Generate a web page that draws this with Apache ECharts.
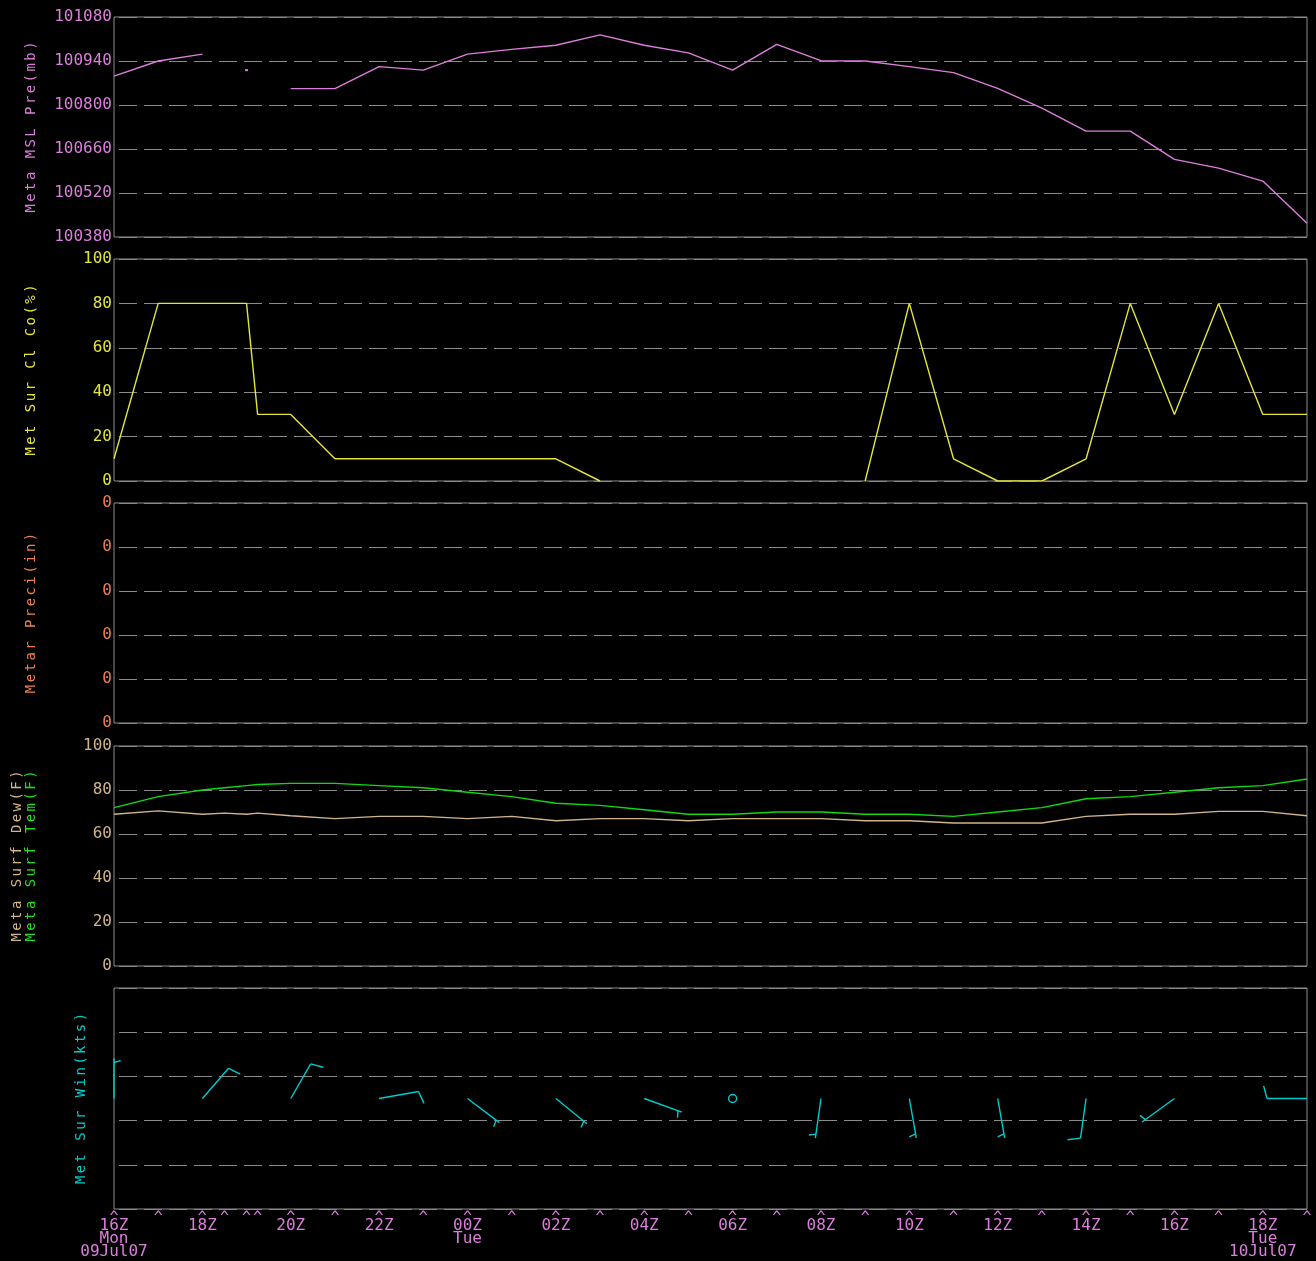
<!DOCTYPE html>
<html>
<head>
<meta charset="utf-8">
<title>Meteogram</title>
<script src="https://cdn.jsdelivr.net/npm/echarts@6/dist/echarts.min.js"></script>
<style>
  html, body { margin: 0; padding: 0; background: #000; }
  #chart { width: 1316px; height: 1261px; }
</style>
</head>
<body>
<div id="chart"></div>
<script>
// Observation times, hours after 00Z Mon 09 Jul 2007
const obsHours = [16, 17, 18, 18.5, 19, 19.25, 20, 21, 22, 23, 24, 25, 26, 27, 28, 29,
  30, 31, 32, 33, 34, 35, 36, 37, 38, 39, 40, 41, 42, 43];

// Mean sea-level pressure (Pa, axis titled mb); '-' = missing report
const mslPressure = [100892, 100940, 100962, '-', 100911, '-', 100852, 100852, 100922, 100911,
  100962, 100977, 100990, 101023, 100990, 100966, 100911, 100993, 100941, 100940,
  100922, 100903, 100853, 100790, 100717, 100717, 100627, 100599, 100558, 100424];

// Surface cloud cover (%)
const cloudCover = [10, 80, 80, 80, 80, 30, 30, 10, 10, 10, 10, 10, 10, 0, '-', '-', '-', '-', '-',
  0, 80, 10, 0, 0, 10, 80, 30, 80, 30, 30];

// Precipitation (in): nothing reported
const precipitation = [];

// Surface dew point and temperature (F)
const dewPoint = [69, 70.5, 69, 69.5, 69, 69.5, 68.3, 67, 68, 68, 67, 68, 66, 67, 67, 66,
  67, 67, 67, 66, 66, 65, 65, 65, 68, 69, 69, 70.3, 70.3, 68.3];
const temperature = [72, 77, 80, 81, 82, 82.5, 83, 83, 82, 81, 79, 77, 74, 73, 71, 69,
  69, 70, 70, 69, 69, 68, 70, 72, 76, 77, 79, 81, 82, 85];

// Surface wind: time, direction (deg, from), speed (kts)
const windHours = [16, 18, 20, 22, 24, 26, 28, 30, 32, 34, 36, 38, 40, 43];
const windDir = [360, 41, 30, 80, 127, 129, 110, 0, 188, 170, 170, 188, 234, 270];
const windSpeed = [5, 10, 10, 10, 5, 5, 5, 0, 5, 5, 5, 10, 5, 10];

// Time axis labels
const labelHours = [16, 18, 20, 22, 24, 26, 28, 30, 32, 34, 36, 38, 40, 42];
const labelText = ['16Z\nMon\n09Jul07', '18Z', '20Z', '22Z', '00Z\nTue', '02Z', '04Z', '06Z',
  '08Z', '10Z', '12Z', '14Z', '16Z', '18Z\nTue\n10Jul07'];

// Panel titles
const titles = [
  { text: 'Meta MSL Pre(mb)', color: '#dc7edc', x: 31, panel: 0 },
  { text: 'Met Sur Cl Co(%)', color: '#e4e43c', x: 31, panel: 1 },
  { text: 'Metar Preci(in)', color: '#ee7f4e', x: 31, panel: 2 },
  { text: 'Meta Surf Dew(F)', color: '#d2b48c', x: 17, panel: 3 },
  { text: 'Meta Surf Tem(F)', color: '#22dd22', x: 31, panel: 3 },
  { text: 'Met Sur Win(kts)', color: '#00cccc', x: 81, panel: 4 }
];

const C = {
  pres: '#dc7edc', cloud: '#e4e43c', precip: '#ee7f4e', dew: '#d2b48c',
  temp: '#12d812', wind: '#00cccc', frame: '#8e8e8e', grid: '#8a8a8a'
};
const FONT = '"DejaVu Sans Mono", "Liberation Mono", monospace';

const panels = [
  { top: 17, height: 220 },
  { top: 259, height: 222 },
  { top: 503, height: 220 },
  { top: 746, height: 220 },
  { top: 988, height: 221 }
];

const chart = echarts.init(document.getElementById('chart'), null, { renderer: 'canvas' });

const grids = panels.map(p => ({
  left: 114, width: 1193, top: p.top, height: p.height,
  show: true, borderColor: C.frame, borderWidth: 1, backgroundColor: 'transparent'
}));

const xAxes = panels.map((p, i) => {
  const ax = {
    gridIndex: i, type: 'value', min: 16, max: 43,
    axisLine: { show: false }, axisTick: { show: false }, splitLine: { show: false },
    axisLabel: { show: false }
  };
  if (i === panels.length - 1) {
    ax.axisLabel = {
      show: true,
      customValues: obsHours,
      margin: 9,
      color: C.pres,
      fontFamily: FONT,
      fontSize: 15,
      formatter: v => {
        const k = labelHours.indexOf(v);
        if (k < 0) return '{c|^}';
        return '{c|^}\n' + labelText[k].split('\n').map(s => '{t|' + s + '}').join('\n');
      },
      rich: {
        c: { color: C.pres, fontFamily: FONT, fontSize: 15, lineHeight: 1, align: 'center' },
        t: { color: C.pres, fontFamily: FONT, fontSize: 16, lineHeight: 13, align: 'center' }
      }
    };
  }
  return ax;
});

function yAxis(i, min, max, interval, color, formatter, showLabels) {
  return {
    gridIndex: i, type: 'value', min, max, interval,
    axisLine: { show: false }, axisTick: { show: false },
    splitLine: {
      show: true,
      lineStyle: { color: C.grid, width: 1, type: [18, 7], dashOffset: 20 }
    },
    axisLabel: {
      show: showLabels !== false, margin: 2, color, fontFamily: FONT, fontSize: 16,
      formatter: formatter || (v => String(v))
    }
  };
}

const yAxes = [
  yAxis(0, 100380, 101080, 140, C.pres, v => String(Math.round(v))),
  yAxis(1, 0, 100, 20, C.cloud),
  yAxis(2, 0, 0.05, 0.01, C.precip, () => '0'),
  yAxis(3, 0, 100, 20, C.dew),
  yAxis(4, 0, 5, 1, C.wind, null, false)
];

function pairs(values) {
  return obsHours.map((h, i) => [h, values[i]]);
}

// Pressure: the isolated 19Z report is marked with a dot
const presData = obsHours.map((h, i) => {
  const v = mslPressure[i];
  const prev = mslPressure[i - 1], next = mslPressure[i + 1];
  if (v !== '-' && prev === '-' && next === '-') {
    return { value: [h, v], symbol: 'rect', symbolSize: [3, 2], itemStyle: { color: C.pres } };
  }
  return [h, v];
});

function lineSeries(name, xi, data, color) {
  return {
    name, type: 'line', xAxisIndex: xi, yAxisIndex: xi, data,
    symbol: 'none', showSymbol: true, connectNulls: false,
    lineStyle: { color, width: 1.4 }, itemStyle: { color },
    animation: false, silent: true
  };
}

// Wind barbs: staff points toward the direction the wind blows from,
// full barb = 10 kts, half barb = 5 kts, pennant = 50 kts, circle = calm
function renderBarb(params, api) {
  const t = api.value(0), dir = api.value(1), spd = api.value(2);
  const p = api.coord([t, 2.5]);
  const style = { stroke: C.wind, lineWidth: 1.4, fill: 'none' };
  if (!spd) {
    return { type: 'circle', shape: { cx: p[0], cy: p[1], r: 4 }, style };
  }
  const th = dir * Math.PI / 180;
  const ux = Math.sin(th), uy = -Math.cos(th);
  const L = 40;
  const tip = [p[0] + L * ux, p[1] + L * uy];
  const a = 75 * Math.PI / 180;
  const bx = ux * Math.cos(a) - uy * Math.sin(a);
  const by = ux * Math.sin(a) + uy * Math.cos(a);
  const children = [{ type: 'line', shape: { x1: p[0], y1: p[1], x2: tip[0], y2: tip[1] }, style }];
  let rem = Math.round(spd / 5) * 5;
  const pennants = Math.floor(rem / 50); rem -= pennants * 50;
  const fulls = Math.floor(rem / 10); rem -= fulls * 10;
  const half = rem >= 5;
  let pos = (pennants === 0 && fulls === 0) ? 4 : 0;
  for (let k = 0; k < pennants; k++) {
    const b0 = [tip[0] - pos * ux, tip[1] - pos * uy];
    const b1 = [tip[0] - (pos + 6) * ux, tip[1] - (pos + 6) * uy];
    children.push({ type: 'polygon', shape: { points: [b0, [b0[0] + 13 * bx, b0[1] + 13 * by], b1] },
      style: { fill: C.wind, stroke: C.wind } });
    pos += 8;
  }
  for (let k = 0; k < fulls; k++) {
    const b0 = [tip[0] - pos * ux, tip[1] - pos * uy];
    children.push({ type: 'line', shape: { x1: b0[0], y1: b0[1], x2: b0[0] + 13 * bx, y2: b0[1] + 13 * by }, style });
    pos += 5;
  }
  if (half) {
    const b0 = [tip[0] - pos * ux, tip[1] - pos * uy];
    children.push({ type: 'line', shape: { x1: b0[0], y1: b0[1], x2: b0[0] + 7 * bx, y2: b0[1] + 7 * by }, style });
  }
  return { type: 'group', children };
}

const series = [
  lineSeries('Meta MSL Pre(mb)', 0, presData, C.pres),
  lineSeries('Met Sur Cl Co(%)', 1, pairs(cloudCover), C.cloud),
  lineSeries('Metar Preci(in)', 2, precipitation, C.precip),
  lineSeries('Meta Surf Dew(F)', 3, pairs(dewPoint), C.dew),
  lineSeries('Meta Surf Tem(F)', 3, pairs(temperature), C.temp),
  {
    name: 'Met Sur Win(kts)', type: 'custom', xAxisIndex: 4, yAxisIndex: 4,
    data: windHours.map((h, i) => [h, windDir[i], windSpeed[i]]),
    encode: { x: 0 },
    renderItem: renderBarb, clip: false, animation: false, silent: true
  }
];

// Vertical panel titles, one glyph at a time on a fixed pitch
const PITCH = 10.85;
const graphics = [];
titles.forEach(tt => {
  const p = panels[tt.panel];
  const cy = p.top + p.height / 2;
  const n = tt.text.length;
  for (let i = 0; i < n; i++) {
    const ch = tt.text[i];
    if (ch === ' ') continue;
    graphics.push({
      type: 'text', x: tt.x, y: cy + ((n - 1) / 2 - i) * PITCH, rotation: Math.PI / 2, silent: true,
      style: {
        text: ch, fill: tt.color, font: '14px ' + FONT,
        textAlign: 'center', textVerticalAlign: 'middle', align: 'center', verticalAlign: 'middle'
      }
    });
  }
});

chart.setOption({
  backgroundColor: '#000',
  animation: false,
  grid: grids,
  xAxis: xAxes,
  yAxis: yAxes,
  series,
  graphic: graphics
});
</script>
</body>
</html>
